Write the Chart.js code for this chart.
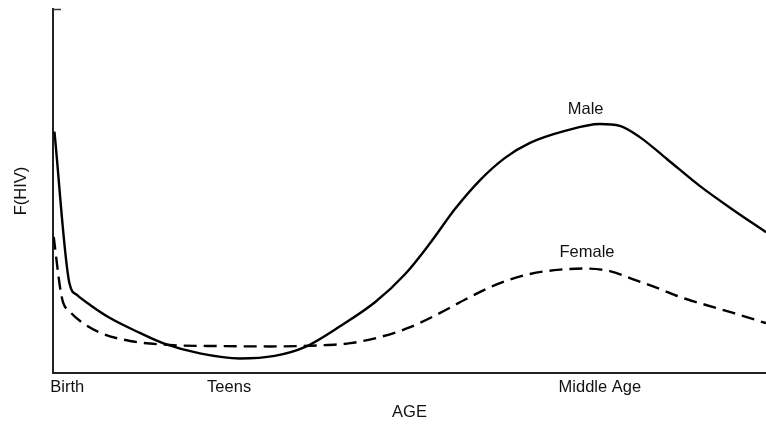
<!DOCTYPE html>
<html>
<head>
<meta charset="utf-8">
<script src="https://cdn.jsdelivr.net/npm/chart.js@4"></script>
<style>
  html, body { margin: 0; padding: 0; background: #fff; }
  #wrap { width: 766px; height: 425px; }
</style>
</head>
<body>
<div id="wrap"><canvas id="hivChart" width="766" height="425"></canvas></div>
<script>
// age runs 0..100 (arbitrary units), F(HIV) 0..100
const maleAge = [0.2, 2.3, 3.4, 5.2, 8.0, 12.2, 15.7, 20.6, 26.2, 31.1, 35.3, 40.3, 45.2, 49.4, 52.9, 56.4, 59.9, 63.4, 66.9,
  71.8, 76.7, 79.5, 82.3, 86.1, 90.7, 95.4, 100];
const maleF = [66.3, 24.7, 21.4, 18.7, 15.1, 11.0, 8.0, 5.4, 4.0, 4.7, 7.1, 12.9, 19.5, 27.2, 35.7, 45.1, 53.0, 59.1, 63.2,
  66.5, 68.4, 67.9, 64.8, 58.8, 51.4, 44.8, 38.7];

const femaleAge = [0.1, 1.0, 1.4, 2.4, 3.8, 6.6, 10.8, 16.4, 23.4, 30.4, 37.5, 41.7, 45.9, 50.1, 54.3, 58.5, 62.7, 66.9,
  71.1, 74.6, 78.1, 81.6, 85.1, 87.9, 90.7, 95.4, 100];
const femaleF = [37.4, 23.4, 19.5, 16.8, 14.3, 11.1, 8.8, 7.7, 7.4, 7.3, 7.6, 8.2, 9.9, 12.6, 16.5, 20.9, 24.7, 27.2,
  28.4, 28.7, 28.0, 25.6, 23.1, 20.9, 19.2, 16.5, 13.7];

const tickLabels = ['Birth', 'Teens', 'Middle Age'];
const tickAt = [2.0, 24.7, 76.7];

// curve names written next to the curves
const curveNames = ['Male', 'Female'];
const curveNameAge = [74.7, 74.9];
const curveNameF = [72.5, 33.0];

const ink = '#111';
const font16 = { family: '"Liberation Sans", Arial, Helvetica, sans-serif', size: 16.5 };

const toPoints = (xs, ys) => xs.map((x, i) => ({ x: x, y: ys[i] }));

// curve names + small tick at top of the y axis
const extras = {
  id: 'extras',
  afterDatasetsDraw(chart) {
    const { ctx, scales: { x, y }, chartArea } = chart;
    ctx.save();
    ctx.strokeStyle = '#333';
    ctx.lineWidth = 1.5;
    ctx.beginPath();
    ctx.moveTo(chartArea.left, y.getPixelForValue(y.max) + 0.5);
    ctx.lineTo(chartArea.left + 8, y.getPixelForValue(y.max) + 0.5);
    ctx.stroke();

    ctx.fillStyle = ink;
    ctx.font = font16.size + 'px ' + font16.family;
    ctx.textAlign = 'center';
    ctx.textBaseline = 'middle';
    curveNames.forEach((name, i) => {
      ctx.fillText(name, x.getPixelForValue(curveNameAge[i]), y.getPixelForValue(curveNameF[i]));
    });
    ctx.restore();
  }
};

new Chart(document.getElementById('hivChart').getContext('2d'), {
  type: 'line',
  data: {
    datasets: [{
      label: 'Male',
      data: toPoints(maleAge, maleF),
      borderColor: '#000',
      borderWidth: 2.4,
      pointRadius: 0,
      fill: false,
      cubicInterpolationMode: 'monotone'
    }, {
      label: 'Female',
      data: toPoints(femaleAge, femaleF),
      borderColor: '#000',
      borderWidth: 2.4,
      borderDash: [13, 7],
      pointRadius: 0,
      fill: false,
      cubicInterpolationMode: 'monotone'
    }]
  },
  options: {
    responsive: false,
    animation: false,
    devicePixelRatio: 1,
    layout: { padding: { top: 9, right: 0, left: 0, bottom: 0 } },
    plugins: { legend: { display: false }, tooltip: { enabled: false } },
    scales: {
      x: {
        type: 'linear',
        min: 0,
        max: 100,
        afterFit: s => { s.height = 52; },
        afterBuildTicks: s => { s.ticks = tickAt.map(v => ({ value: v })); },
        grid: { display: false, drawTicks: false },
        border: { display: true, color: '#222', width: 2 },
        ticks: {
          autoSkip: false,
          maxRotation: 0,
          minRotation: 0,
          padding: 5,
          color: ink,
          font: font16,
          callback: (v, i) => tickLabels[i]
        },
        title: { display: true, text: 'AGE', color: ink, font: font16, padding: { top: 0, bottom: 3 } }
      },
      y: {
        min: 0,
        max: 100,
        afterFit: s => { s.width = 53; },
        grid: { display: false, drawTicks: false },
        border: { display: true, color: '#222', width: 2 },
        ticks: { display: false },
        title: { display: true, text: 'F(HIV)', color: ink, font: font16, padding: { top: 12, bottom: 0 } }
      }
    }
  },
  plugins: [extras]
});
</script>
</body>
</html>
